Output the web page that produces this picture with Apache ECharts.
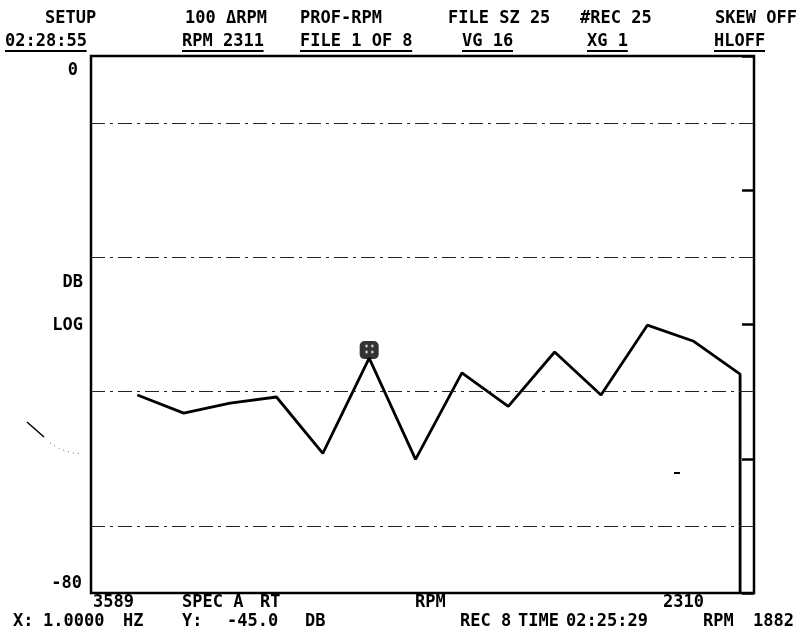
<!DOCTYPE html>
<html>
<head>
<meta charset="utf-8">
<script src="https://cdn.jsdelivr.net/npm/echarts@6/dist/echarts.min.js"></script>
<style>
  html, body { margin: 0; padding: 0; background: #fff; }
  #chart { width: 805px; height: 641px; }
</style>
</head>
<body>
<div id="chart"></div>
<script>
// record index along the rpm sweep (3589 -> 2310), level in dB
const records = [1, 2, 3, 4, 5, 6, 7, 8, 9, 10, 11, 12, 13, 14];
const levelDb = [-50.5, -53.2, -51.7, -50.8, -59.2, -45.0, -60.1, -47.2, -52.2, -44.1, -50.5, -40.1, -42.5, -47.4];
const dropDb = -80;          // trace falls off the bottom after the last record
const cursorRec = 6;
const cursorDb = -45.0;
const gridDb = [-10, -30, -50, -70];

const FAMILY = '"DejaVu Sans Mono", monospace';
const FONT = 'bold 17px ' + FAMILY;

const headerRow1 = [['SETUP', 45], ['100 \u0394RPM', 185], ['PROF-RPM', 300], ['FILE SZ 25', 448], ['#REC 25', 580], ['SKEW OFF', 715]];
const headerRow2 = [['02:28:55', 5], ['RPM 2311', 182], ['FILE 1 OF 8', 300], ['VG 16', 462], ['XG 1', 587], ['HLOFF', 714]];
const footRow1 = [['3589', 93], ['SPEC A', 182], ['RT', 260], ['RPM', 415], ['2310', 663]];
const footRow2 = [['X:', 13], ['1.0000', 43], ['HZ', 123], ['Y:', 182], ['-45.0', 227], ['DB', 305],
                  ['REC 8', 460], ['TIME', 518], ['02:25:29', 566], ['RPM', 703], ['1882', 753]];

const chart = echarts.init(document.getElementById('chart'));

const txt = (s, x, y, align) => ({
  type: 'text', x: x, y: y, silent: true,
  style: { text: s, font: FONT, fill: '#000', textAlign: align || 'left', align: align || 'left',
           textVerticalAlign: 'middle', verticalAlign: 'middle' }
});

const graphics = [];
headerRow1.forEach(([s, x]) => graphics.push(txt(s, x, 19)));
headerRow2.forEach(([s, x]) => {
  graphics.push(txt(s, x, 42));
  // field underline
  graphics.push({ type: 'rect', silent: true, shape: { x: x, y: 50, width: s.length * 10.2, height: 2 }, style: { fill: '#000' } });
});
footRow1.forEach(([s, x]) => graphics.push(txt(s, x, 603)));
footRow2.forEach(([s, x]) => graphics.push(txt(s, x, 622)));
graphics.push(txt('DB', 83, 283, 'right'));
graphics.push(txt('LOG', 83, 326, 'right'));
// scan marks
graphics.push({ type: 'polyline', silent: true, shape: { points: [[27, 422], [44, 437]] }, style: { stroke: '#000', lineWidth: 1.5 } });
graphics.push({ type: 'polyline', silent: true, shape: { points: [[50, 443], [58, 448], [66, 451], [74, 453], [82, 454]] },
  style: { stroke: '#666', lineWidth: 1, lineDash: [1, 4] } });
graphics.push({ type: 'rect', silent: true, shape: { x: 674, y: 472, width: 6, height: 2 }, style: { fill: '#000' } });

const lineData = records.map((r, i) => [r, levelDb[i]]);
lineData.push([records[records.length - 1], dropDb]);

const labelStyle = { fontFamily: FAMILY, fontSize: 17, fontWeight: 'bold', color: '#000' };

chart.setOption({
  animation: false,
  backgroundColor: '#fff',
  grid: { left: 91, right: 51, top: 56, bottom: 48, show: true, borderColor: '#000', borderWidth: 2.5, backgroundColor: 'transparent' },
  xAxis: {
    type: 'value', min: 0, max: 14.3,
    axisLine: { show: false }, axisTick: { show: false }, axisLabel: { show: false }, splitLine: { show: false }
  },
  yAxis: [
    {
      type: 'value', min: -80, max: 0, interval: 10,
      axisLine: { show: false }, axisTick: { show: false }, splitLine: { show: false },
      axisLabel: {
        margin: 9,
        formatter: v => (v === 0 ? '{t|0}' : v === -80 ? '{b|-80}' : ''),
        rich: {
          t: Object.assign({ padding: [30, 4, 0, 0] }, labelStyle),
          b: Object.assign({ padding: [0, 0, 18, 0] }, labelStyle)
        }
      }
    },
    {
      type: 'value', position: 'right', min: -80, max: 0, interval: 20,
      axisLine: { show: false }, axisLabel: { show: false }, splitLine: { show: false },
      axisTick: { show: true, inside: true, length: 12, lineStyle: { color: '#000', width: 2.5 } }
    }
  ],
  graphic: graphics,
  series: [
    {
      type: 'line',
      data: lineData,
      symbol: 'none',
      lineStyle: { color: '#000', width: 2.8 },
      markLine: {
        silent: true, symbol: 'none', label: { show: false },
        lineStyle: { color: '#222', width: 1.2, type: [14, 5, 3, 5] },
        data: gridDb.map(v => ({ yAxis: v }))
      },
      z: 3
    },
    {
      type: 'scatter',
      data: [[cursorRec, cursorDb]],
      symbol: 'roundRect',
      symbolSize: [19, 18],
      symbolOffset: [0, -8],
      itemStyle: { color: '#000' },
      label: { show: true, formatter: '\u2237', color: '#fff', fontSize: 14, fontWeight: 'bold', position: 'inside' },
      z: 4
    }
  ]
});
</script>
</body>
</html>
